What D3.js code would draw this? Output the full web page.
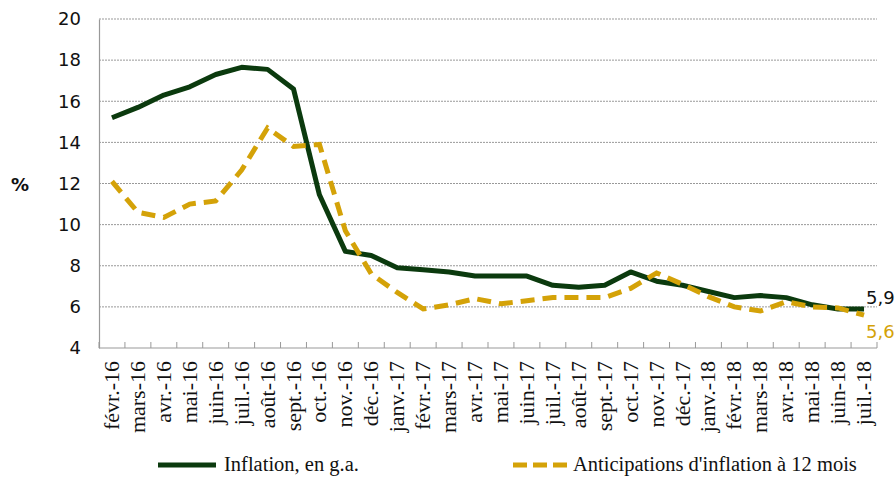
<!DOCTYPE html>
<html>
<head>
<meta charset="utf-8">
<script src="https://cdn.jsdelivr.net/npm/d3@7"></script>
<style>
  body { margin: 0; background: #fff; }
  svg { display: block; }
</style>
</head>
<body>
<svg id="chart" width="896" height="477"></svg>
<script>
const months = ["févr.-16","mars-16","avr.-16","mai-16","juin-16","juil.-16","août-16","sept.-16","oct.-16","nov.-16","déc.-16",
  "janv.-17","févr.-17","mars-17","avr.-17","mai-17","juin-17","juil.-17","août-17","sept.-17","oct.-17","nov.-17","déc.-17",
  "janv.-18","févr.-18","mars-18","avr.-18","mai-18","juin-18","juil.-18"];

const inflation = [15.2,15.7,16.3,16.7,17.3,17.65,17.55,16.6,11.45,8.7,8.5,
  7.9,7.8,7.7,7.5,7.5,7.5,7.05,6.95,7.05,7.7,7.25,7.05,
  6.75,6.45,6.55,6.45,6.1,5.9,5.9];

const anticipations = [12.1,10.6,10.35,11.0,11.15,12.65,14.7,13.8,13.9,9.7,7.6,
  6.7,5.9,6.1,6.4,6.15,6.3,6.45,6.45,6.45,6.9,7.65,7.1,
  6.5,6.0,5.8,6.25,6.0,5.95,5.6];

const yTicks = [4,6,8,10,12,14,16,18,20];

const seriesNames = ["Inflation, en g.a.", "Anticipations d'inflation à 12 mois"];
const green = "#0b3a0e";
const gold = "#d4a208";

const svg = d3.select("#chart");
const plotLeft = 99, plotRight = 877, plotTop = 19, plotBottom = 348;

const x = d3.scaleBand().domain(months).range([plotLeft, plotRight]);
const y = d3.scaleLinear().domain([4, 20]).range([plotBottom, plotTop]);

// gridlines
svg.append("g")
  .selectAll("line")
  .data(yTicks.filter(d => d > 4))
  .enter().append("line")
  .attr("x1", plotLeft).attr("x2", plotRight)
  .attr("y1", d => y(d)).attr("y2", d => y(d))
  .attr("stroke", "#999")
  .attr("stroke-width", 1)
  .attr("stroke-dasharray", "2,1");

// y axis
const yAxis = svg.append("g")
  .attr("transform", `translate(${plotLeft},0)`)
  .call(d3.axisLeft(y).tickValues(yTicks).tickSize(0).tickPadding(18));
yAxis.select(".domain").attr("stroke", "#999").attr("stroke-width", 1.2);
yAxis.selectAll("text")
  .attr("font-family", "DejaVu Sans, Verdana, sans-serif")
  .attr("font-size", "18px")
  .attr("fill", "#111");

// x axis line
svg.append("line")
  .attr("x1", plotLeft).attr("x2", plotRight)
  .attr("y1", plotBottom).attr("y2", plotBottom)
  .attr("stroke", "#999").attr("stroke-width", 1.2);

// tick marks at band boundaries
const bounds = months.map(m => x(m)).concat([plotRight]);
svg.append("g")
  .selectAll("line")
  .data(bounds)
  .enter().append("line")
  .attr("x1", d => d).attr("x2", d => d)
  .attr("y1", plotBottom - 6).attr("y2", plotBottom)
  .attr("stroke", "#999").attr("stroke-width", 1);

// x labels
svg.append("g")
  .selectAll("text")
  .data(months)
  .enter().append("text")
  .attr("transform", d => `translate(${x(d) + x.bandwidth() / 2 + 7},${plotBottom + 13}) rotate(-90)`)
  .attr("text-anchor", "end")
  .attr("font-family", "Liberation Serif, Times New Roman, serif")
  .attr("font-size", "22px")
  .attr("fill", "#111")
  .text(d => d);

// % label
svg.append("text")
  .attr("x", 11).attr("y", 191)
  .attr("font-family", "DejaVu Sans, Verdana, sans-serif")
  .attr("font-size", "18px")
  .attr("font-weight", "bold")
  .attr("fill", "#111")
  .text("%");

const line = d3.line()
  .x((d, i) => x(months[i]) + x.bandwidth() / 2)
  .y(d => y(d));

svg.append("path")
  .datum(inflation)
  .attr("d", line)
  .attr("fill", "none")
  .attr("stroke", green)
  .attr("stroke-width", 5)
  .attr("stroke-linejoin", "round");

svg.append("path")
  .datum(anticipations)
  .attr("d", line)
  .attr("fill", "none")
  .attr("stroke", gold)
  .attr("stroke-width", 5)
  .attr("stroke-dasharray", "14,8");

// end labels
const lastX = x(months[months.length - 1]) + x.bandwidth() / 2;
svg.append("text")
  .attr("x", lastX + 2).attr("y", y(inflation[inflation.length - 1]) - 5)
  .attr("font-family", "DejaVu Sans, Verdana, sans-serif")
  .attr("font-size", "18px")
  .attr("fill", "#111")
  .text("5,9");
svg.append("text")
  .attr("x", lastX + 2).attr("y", y(anticipations[anticipations.length - 1]) + 23)
  .attr("font-family", "DejaVu Sans, Verdana, sans-serif")
  .attr("font-size", "18px")
  .attr("fill", gold)
  .text("5,6");

// legend
const legend = svg.append("g");
legend.append("line")
  .attr("x1", 158).attr("x2", 216).attr("y1", 465).attr("y2", 465)
  .attr("stroke", green).attr("stroke-width", 5);
legend.append("text")
  .attr("x", 224).attr("y", 471)
  .attr("font-family", "Liberation Serif, Times New Roman, serif")
  .attr("font-size", "20.5px")
  .attr("fill", "#111")
  .text(seriesNames[0]);
legend.append("line")
  .attr("x1", 513).attr("x2", 567).attr("y1", 465).attr("y2", 465)
  .attr("stroke", gold).attr("stroke-width", 5)
  .attr("stroke-dasharray", "14,6");
legend.append("text")
  .attr("x", 573).attr("y", 471)
  .attr("font-family", "Liberation Serif, Times New Roman, serif")
  .attr("font-size", "20.5px")
  .attr("fill", "#111")
  .text(seriesNames[1]);
</script>
</body>
</html>
